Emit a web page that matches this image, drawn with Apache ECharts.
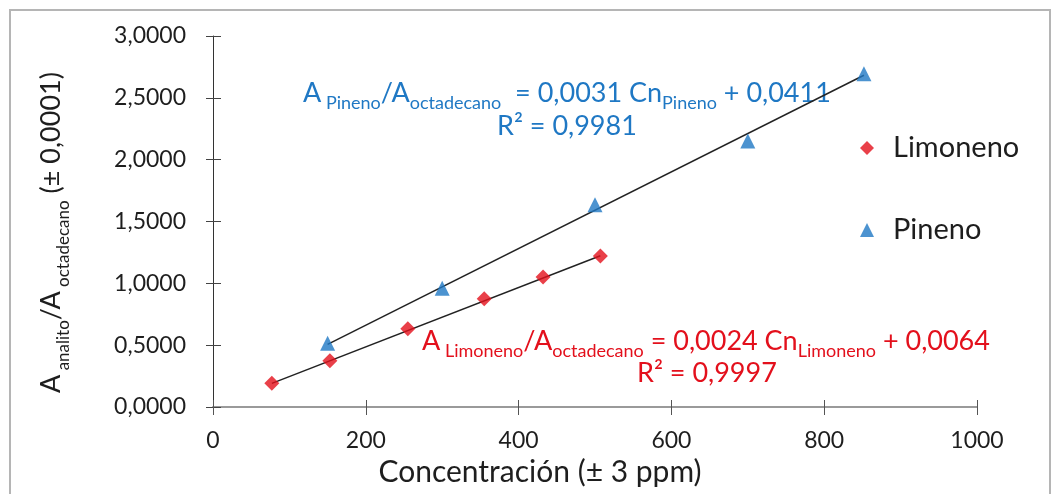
<!DOCTYPE html>
<html>
<head>
<meta charset="utf-8">
<script src="https://cdn.jsdelivr.net/npm/echarts@6/dist/echarts.min.js"></script>
<style>
  html, body { margin: 0; padding: 0; background: #fff; }
  #chart { width: 1053px; height: 494px; }
</style>
</head>
<body>
<div id="chart"></div>
<script>
// data
const limonenoX = [77, 153, 255, 355, 432, 507];
const limonenoY = [0.192, 0.375, 0.632, 0.875, 1.052, 1.222];
const pinenoX = [150, 300, 500, 700, 852];
const pinenoY = [0.515, 0.96, 1.635, 2.15, 2.695];

// trendline coefficients shown on the chart
const limonenoFit = { slope: 0.0024, intercept: 0.0064 };
const pinenoFit = { slope: 0.0031, intercept: 0.0411 };

const xTicks = [0, 200, 400, 600, 800, 1000];
const yTicks = [0, 0.5, 1, 1.5, 2, 2.5, 3];

const FONT = 'Lato, "Open Sans", sans-serif';
const RED = '#e3101c';
const BLUE = '#1f78c4';
const INK = '#1e1e1e';

const pairs = (xs, ys) => xs.map((x, i) => [x, ys[i]]);
const fitLine = (xs, fit) => {
  const a = xs[0], b = xs[xs.length - 1];
  return [[a, fit.slope * a + fit.intercept], [b, fit.slope * b + fit.intercept]];
};
const fmt = v => v.toFixed(4).replace('.', ',');

const richEq = color => ({
  m: { fontSize: 27, fontFamily: FONT, fill: color, verticalAlign: 'top', lineHeight: 32 },
  s: { fontSize: 18, fontFamily: FONT, fill: color, verticalAlign: 'bottom', lineHeight: 32, padding: [6, 0, 0, 0] }
});

const chart = echarts.init(document.getElementById('chart'));

const xBase = {
  type: 'value',
  min: xTicks[0],
  max: xTicks[xTicks.length - 1],
  interval: 200,
  splitLine: { show: false }
};
const yBase = {
  type: 'value',
  min: yTicks[0],
  max: yTicks[yTicks.length - 1],
  interval: 0.5,
  splitLine: { show: false }
};

const options = {
  animation: false,
  backgroundColor: '#fff',
  textStyle: { fontFamily: FONT },
  grid: { left: 213, right: 76, top: 36, bottom: 87, outerBoundsMode: 'none', containLabel: false },
  legend: {
    orient: 'vertical',
    left: 855,
    top: 126,
    itemGap: 48,
    itemWidth: 14,
    itemHeight: 14,
    textStyle: { fontFamily: FONT, fontSize: 29, lineHeight: 34, color: INK, padding: [0, 0, 0, 14] },
    data: [
      { name: 'Limoneno', icon: 'diamond' },
      { name: 'Pineno', icon: 'triangle' }
    ]
  },
  xAxis: [Object.assign({}, xBase, {
    axisLine: { onZero: false, lineStyle: { color: '#9a9a9a', width: 2 } },
    axisTick: { show: true, length: 8, lineStyle: { color: '#555' } },
    axisLabel: { fontSize: 23, color: INK, margin: 22, fontFamily: FONT, formatter: v => String(v) },
    name: 'Concentración (± 3 ppm)',
    nameLocation: 'middle',
    nameGap: 48,
    nameTextStyle: { fontSize: 30, color: INK, fontFamily: FONT, padding: [0, 110, 0, 0] }
  }), Object.assign({}, xBase, {
    position: 'bottom',
    axisLine: { show: false },
    axisTick: { show: true, inside: true, length: 7, lineStyle: { color: '#555' } },
    axisLabel: { show: false }
  })],
  yAxis: [Object.assign({}, yBase, {
    axisLine: { show: true, lineStyle: { color: '#333' } },
    axisTick: { show: true, length: 7, lineStyle: { color: '#444' } },
    axisLabel: { fontSize: 23, color: INK, margin: 27, fontFamily: FONT, formatter: fmt }
  }), Object.assign({}, yBase, {
    position: 'left',
    axisLine: { show: false },
    axisTick: { show: true, inside: true, length: 8, lineStyle: { color: '#444' } },
    axisLabel: { show: false }
  })],
  graphic: [
    {
      type: 'rect',
      shape: { x: 10, y: 10, width: 1040, height: 490 },
      style: { fill: 'none', stroke: '#b5b5b5', lineWidth: 2 },
      silent: true
    },
    {
      type: 'text',
      x: 38,
      y: 393,
      rotation: Math.PI / 2,
      style: {
        text: '{m|A}{s| analito}{m|/A}{s| octadecano}{m| (± 0,0001)}',
        fill: INK,
        rich: {
          m: { fontSize: 27, fontFamily: FONT, fill: INK, verticalAlign: 'top', lineHeight: 34 },
          s: { fontSize: 17, fontFamily: FONT, fill: INK, verticalAlign: 'bottom', lineHeight: 34, padding: [8, 0, 0, 0] }
        }
      }
    },
    {
      type: 'text',
      x: 303,
      y: 80,
      style: {
        text: '{m|A}{s| Pineno}{m|/A}{s|octadecano}{m|  = 0,0031 Cn}{s|Pineno}{m| + 0,0411}',
        fill: BLUE,
        rich: richEq(BLUE)
      }
    },
    {
      type: 'text',
      x: 497,
      y: 113,
      style: { text: 'R² = 0,9981', fontSize: 27, fontFamily: FONT, fill: BLUE }
    },
    {
      type: 'text',
      x: 422,
      y: 328,
      style: {
        text: '{m|A}{s| Limoneno}{m|/A}{s|octadecano}{m| = 0,0024 Cn}{s|Limoneno}{m| + 0,0064}',
        fill: RED,
        rich: richEq(RED)
      }
    },
    {
      type: 'text',
      x: 637,
      y: 360,
      style: { text: 'R² = 0,9997', fontSize: 27, fontFamily: FONT, fill: RED }
    }
  ],
  series: [
    {
      type: 'line',
      data: fitLine(limonenoX, limonenoFit),
      symbol: 'none',
      lineStyle: { color: '#222', width: 1.5 },
      silent: true,
      z: 1
    },
    {
      type: 'line',
      data: fitLine(pinenoX, pinenoFit),
      symbol: 'none',
      lineStyle: { color: '#222', width: 1.5 },
      silent: true,
      z: 1
    },
    {
      name: 'Limoneno',
      type: 'scatter',
      data: pairs(limonenoX, limonenoY),
      symbol: 'diamond',
      symbolSize: 15,
      itemStyle: { color: RED },
      z: 3
    },
    {
      name: 'Pineno',
      type: 'scatter',
      data: pairs(pinenoX, pinenoY),
      symbol: 'triangle',
      symbolSize: 15,
      itemStyle: { color: BLUE },
      z: 3
    }
  ]
};

chart.setOption(options);
</script>
</body>
</html>
